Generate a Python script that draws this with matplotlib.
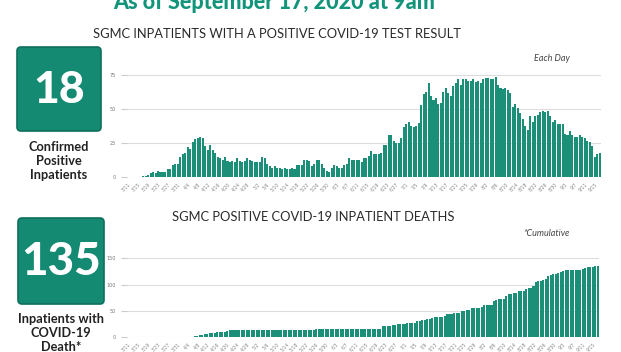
import matplotlib.pyplot as plt
from matplotlib.patches import FancyBboxPatch
import pandas as pd

# daily values, 3/11/2020 .. 9/17/2020
start_date = "2020-03-11"
end_date = "2020-09-17"

inpatients = [
    0, 0, 0, 0, 0, 0,
    1, 1, 2, 3, 4, 3, 5, 4, 4, 4,
    6, 6, 9, 10, 10, 15, 17, 18, 22, 21,
    26, 28, 29, 30, 29, 23, 20, 24, 20, 18,
    15, 14, 13, 15, 12, 11, 12, 11, 14, 12,
    11, 12, 14, 13, 12, 11, 11, 11, 15, 14,
    10, 8, 7, 8, 7, 7, 6, 7, 6, 6,
    7, 6, 9, 9, 9, 13, 13, 12, 8, 10,
    13, 13, 10, 7, 5, 4, 7, 9, 8, 7,
    7, 9, 10, 14, 13, 13, 13,
    13, 11, 14, 14, 16, 19, 17, 17, 17, 18,
    24, 24, 31, 31, 27, 25, 25, 29, 37, 39,
    41, 38, 37, 38, 40, 53, 61, 63, 69, 60,
    57, 58, 54, 55, 63, 66, 62, 60, 67, 69,
    72, 68, 72, 72, 71, 71, 72, 70, 71, 69,
    72, 73, 73, 72, 72, 74, 68, 66, 65, 66,
    64, 62, 52, 54, 51, 47, 43, 38, 35, 45,
    41, 45, 46, 48, 49, 48, 49, 45, 41, 42,
    39, 39, 39, 32, 31, 34, 31, 30, 30, 31,
    30, 29, 27, 26, 23, 15, 17, 18,
]

deaths = [
    0, 0, 0, 0, 0, 0, 0, 0, 0, 0, 0, 0, 0, 0, 0, 0,
    1, 1, 1, 1, 1, 1, 1, 1, 1, 1, 1,
    2, 3, 4, 5, 6, 7, 8, 9, 9, 10, 10, 11, 11, 12,
    13, 13, 13, 13, 13, 13, 13, 13, 13, 13, 13, 13, 13, 13, 13,
    14, 14, 14, 14, 14, 14, 14, 14, 14, 14, 14, 14, 14, 14, 14, 14, 14, 14, 14, 14,
    15, 15, 15, 15, 15, 15, 15, 15, 15, 15, 15, 15, 15, 15, 15, 15, 15, 15, 15, 15,
    16, 16, 16, 16, 16, 16, 16,
    21, 21, 22, 22, 24, 24, 25, 25, 26, 26, 27, 27, 28, 28,
    31, 31, 32, 32, 35, 35, 36, 38, 38, 39, 39, 40,
    44, 45, 45, 46, 46, 47, 50, 50, 51, 51,
    55, 55, 56, 56, 57, 61, 61, 62, 62, 68, 70,
    72, 72, 73, 78, 82, 83, 84, 84, 87, 88, 88,
    92, 93, 94, 98, 105, 106, 107, 108, 111, 116, 118,
    120, 121, 122, 124, 126, 127, 127, 127, 128, 128, 128, 128,
    130, 131, 133, 134, 134, 135, 135,
]

title = "As of September 17, 2020 at 9am"
chart1_title = "SGMC INPATIENTS WITH A POSITIVE COVID-19 TEST RESULT"
chart2_title = "SGMC POSITIVE COVID-19 INPATIENT DEATHS"
box1_value = "18"
box1_label = "Confirmed\nPositive\nInpatients"
box2_value = "135"
box2_label = "Inpatients with\nCOVID-19\nDeath*"

dates = pd.date_range(start_date, end_date)
tick_pos = list(range(0, len(dates), 4))
tick_labels = ["{}/{}".format(dates[i].month, dates[i].day) for i in tick_pos]

teal = "#148a73"
bar_teal = "#1b8f78"
W, H = 621, 352

fig = plt.figure(figsize=(6.21, 3.52), dpi=100)

# overlay in pixel coords for text + number boxes
ov = fig.add_axes([0, 0, 1, 1])
ov.set_xlim(0, W)
ov.set_ylim(H, 0)
ov.axis("off")

ov.text(274, 9, title, ha="center", va="baseline", fontsize=15.5,
        fontweight="black", color="#12947a", family="Lato")
ov.text(277, 38, chart1_title, ha="center", va="baseline", fontsize=9.3,
        color="#2a2a2a", family="Lato")
ov.text(313, 221, chart2_title, ha="center", va="baseline", fontsize=9.3,
        color="#2a2a2a", family="Lato")
ov.text(570, 61, "Each Day", ha="right", va="baseline", fontsize=6.5,
        style="italic", color="#444444", family="Lato")
ov.text(570, 236, "*Cumulative", ha="right", va="baseline", fontsize=6.5,
        style="italic", color="#444444", family="Lato")

for (x0, y0, x1, y1, val, lab, ly, fs) in [
        (17, 47, 101, 131, box1_value, box1_label, 141, 32),
        (18, 218, 104, 304, box2_value, box2_label, 313, 33)]:
    box = FancyBboxPatch((x0, y0), x1 - x0, y1 - y0,
                         boxstyle="round,pad=0,rounding_size=4",
                         facecolor=teal, edgecolor="#0f6f5d", linewidth=1.2)
    ov.add_patch(box)
    ov.text((x0 + x1) / 2, (y0 + y1) / 2 + 1, val, ha="center", va="center",
            fontsize=fs, fontweight="black", color="white", family="Lato")
    ov.text((x0 + x1) / 2, ly, lab, ha="center", va="top", fontsize=9.2,
            fontweight="bold", color="#222222", family="Lato", linespacing=1.2)


def bar_chart(rect, values, ylim, yticks):
    ax = fig.add_axes(rect)
    ax.set_facecolor("none")
    ax.bar(range(len(values)), values, width=0.82, color=bar_teal, zorder=2)
    ax.set_xlim(-0.5, len(values) - 0.5)
    ax.set_ylim(*ylim)
    ax.set_yticks(yticks)
    ax.set_yticklabels([str(t) for t in yticks], fontsize=3.5, color="#777777")
    ax.set_xticks(tick_pos)
    ax.set_xticklabels(tick_labels, rotation=45, ha="right", fontsize=3.3,
                       color="#888888", rotation_mode="anchor")
    ax.grid(axis="y", color="#dddddd", linewidth=0.8, zorder=0)
    for s in ax.spines.values():
        s.set_visible(False)
    ax.tick_params(axis="y", length=4, color="#cccccc", pad=4)
    ax.tick_params(axis="x", length=0, pad=3)
    return ax


def rect(x0, x1, ytop, ybot):
    return [x0 / W, 1 - ybot / H, (x1 - x0) / W, (ybot - ytop) / H]


bar_chart(rect(127, 601, 68.5, 177.3), inpatients, (0, 80), [0, 25, 50, 75])
bar_chart(rect(127, 599, 253, 337.3), deaths, (0, 160), [0, 50, 100, 150])

fig.savefig("out.png", dpi=100)
